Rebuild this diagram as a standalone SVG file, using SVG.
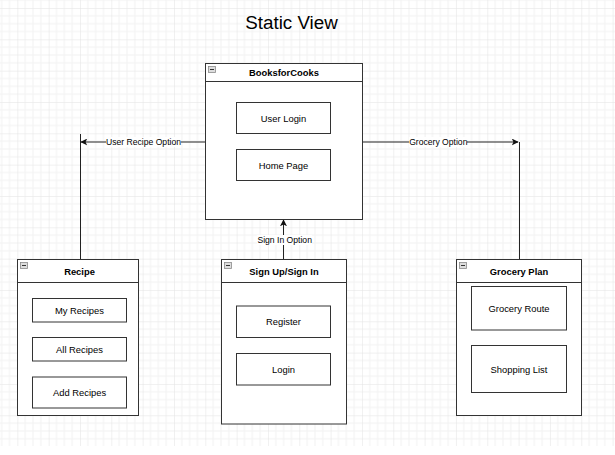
<svg xmlns="http://www.w3.org/2000/svg" width="615" height="455" viewBox="0 0 615 455">
<style>
.bg{fill:#ffffff}
.box{fill:#ffffff;stroke:#333333;stroke-width:1}
.hdr{stroke:#333333;stroke-width:1;fill:none}
.item{fill:#ffffff;stroke:#333333;stroke-width:1}
.t{font-family:"Liberation Sans",Arial,sans-serif;font-size:9.4px;fill:#000000;text-anchor:middle;dominant-baseline:central}
.tb{font-family:"Liberation Sans",Arial,sans-serif;font-size:9.4px;font-weight:bold;fill:#000000;text-anchor:middle;dominant-baseline:central}
.el{font-family:"Liberation Sans",Arial,sans-serif;font-size:8.6px;fill:#000000;text-anchor:middle;dominant-baseline:central}
.edge{stroke:#222222;stroke-width:1;fill:none}
.ico{fill:#dddddd;stroke:#8a8a8a;stroke-width:0.8}
.icol{stroke:#333333;stroke-width:1}
</style>
<defs>
<pattern id="grid" patternUnits="userSpaceOnUse" x="17.33" y="8" width="31.33" height="31.33">
<path d="M7.83 0V31.33M15.67 0V31.33M23.5 0V31.33M0 7.83H31.33M0 15.67H31.33M0 23.5H31.33" stroke="#f2f2f2" stroke-width="1" fill="none"/>
<path d="M0 0V31.33M0 0H31.33" stroke="#e2e2e2" stroke-width="1" fill="none"/>
</pattern>
<marker id="arr" viewBox="0 0 10 10" refX="9" refY="5" markerWidth="7" markerHeight="7" markerUnits="userSpaceOnUse" orient="auto">
<path d="M0 0L10 5L0 10L2.5 5Z" fill="#111111"/>
</marker>
</defs>
<rect class="bg" x="0" y="0" width="615" height="455"/>
<rect x="0" y="0" width="615" height="446" fill="url(#grid)"/>
<text x="291.5" y="22" style="font-family:'Liberation Sans',Arial,sans-serif;font-size:18.8px;fill:#000;text-anchor:middle;dominant-baseline:central">Static View</text>

<g id="connectors">
<path class="edge" d="M205.5 142H81" marker-end="url(#arr)"/>
<path class="edge" d="M80.5 134V259.5"/>
<path class="edge" d="M362.5 142H518" marker-end="url(#arr)"/>
<path class="edge" d="M519.5 142V259.5"/>
<path class="edge" d="M283.5 259.5V220" marker-end="url(#arr)"/>
<rect x="106" y="137" width="75" height="10" fill="#ffffff"/>
<text class="el" x="143.5" y="142">User Recipe Option</text>
<rect x="409" y="137" width="58" height="10" fill="#ffffff"/>
<text class="el" x="438.3" y="142">Grocery Option</text>
<rect x="257" y="235" width="55" height="10" fill="#ffffff"/>
<text class="el" x="284.7" y="240">Sign In Option</text>
</g>

<g id="booksforcooks">
<rect class="box" x="205.5" y="63.5" width="157" height="156"/>
<path class="hdr" d="M205.5 81.5H362.5"/>
<rect class="ico" x="208.5" y="66.5" width="7" height="6"/>
<path class="icol" d="M210 69.5H214"/>
<text class="tb" x="284" y="72.5">BooksforCooks</text>
<g id="user-login"><rect class="item" x="236.5" y="102.5" width="94" height="31"/><text class="t" x="283.5" y="118">User Login</text></g>
<g id="home-page"><rect class="item" x="236.5" y="149.5" width="94" height="31"/><text class="t" x="283.5" y="165">Home Page</text></g>
</g>

<g id="recipe">
<rect class="box" x="17.5" y="259.5" width="121" height="156"/>
<path class="hdr" d="M17.5 282.5H138.5"/>
<rect class="ico" x="20.5" y="262.5" width="7" height="6"/>
<path class="icol" d="M22 265.5H26"/>
<text class="tb" x="79.5" y="271">Recipe</text>
<g id="my-recipes"><rect class="item" x="32.5" y="298.5" width="94" height="23.5"/><text class="t" x="79.5" y="310.2">My Recipes</text></g>
<g id="all-recipes"><rect class="item" x="32.5" y="337.5" width="94" height="23.5"/><text class="t" x="79.5" y="349.2">All Recipes</text></g>
<g id="add-recipes"><rect class="item" x="32.5" y="377" width="94" height="31"/><text class="t" x="79.5" y="392.5">Add Recipes</text></g>
</g>

<g id="signup-signin">
<rect class="box" x="221.5" y="259.5" width="125" height="164.5"/>
<path class="hdr" d="M221.5 282.5H346.5"/>
<rect class="ico" x="224.5" y="262.5" width="7" height="6"/>
<path class="icol" d="M226 265.5H230"/>
<text class="tb" x="284" y="271">Sign Up/Sign In</text>
<g id="register"><rect class="item" x="236.5" y="306" width="94" height="31.5"/><text class="t" x="283.5" y="321.7">Register</text></g>
<g id="login"><rect class="item" x="236.5" y="353.5" width="94" height="31.5"/><text class="t" x="283.5" y="369.2">Login</text></g>
</g>

<g id="grocery-plan">
<rect class="box" x="456.5" y="259.5" width="125" height="156"/>
<path class="hdr" d="M456.5 282.5H581.5"/>
<rect class="ico" x="459.5" y="262.5" width="7" height="6"/>
<path class="icol" d="M461 265.5H465"/>
<text class="tb" x="519" y="271">Grocery Plan</text>
<g id="grocery-route"><rect class="item" x="471.5" y="286.5" width="95" height="43.5"/><text class="t" x="519" y="308.2">Grocery Route</text></g>
<g id="shopping-list"><rect class="item" x="471.5" y="345.5" width="95" height="47"/><text class="t" x="519" y="369">Shopping List</text></g>
</g>
</svg>
